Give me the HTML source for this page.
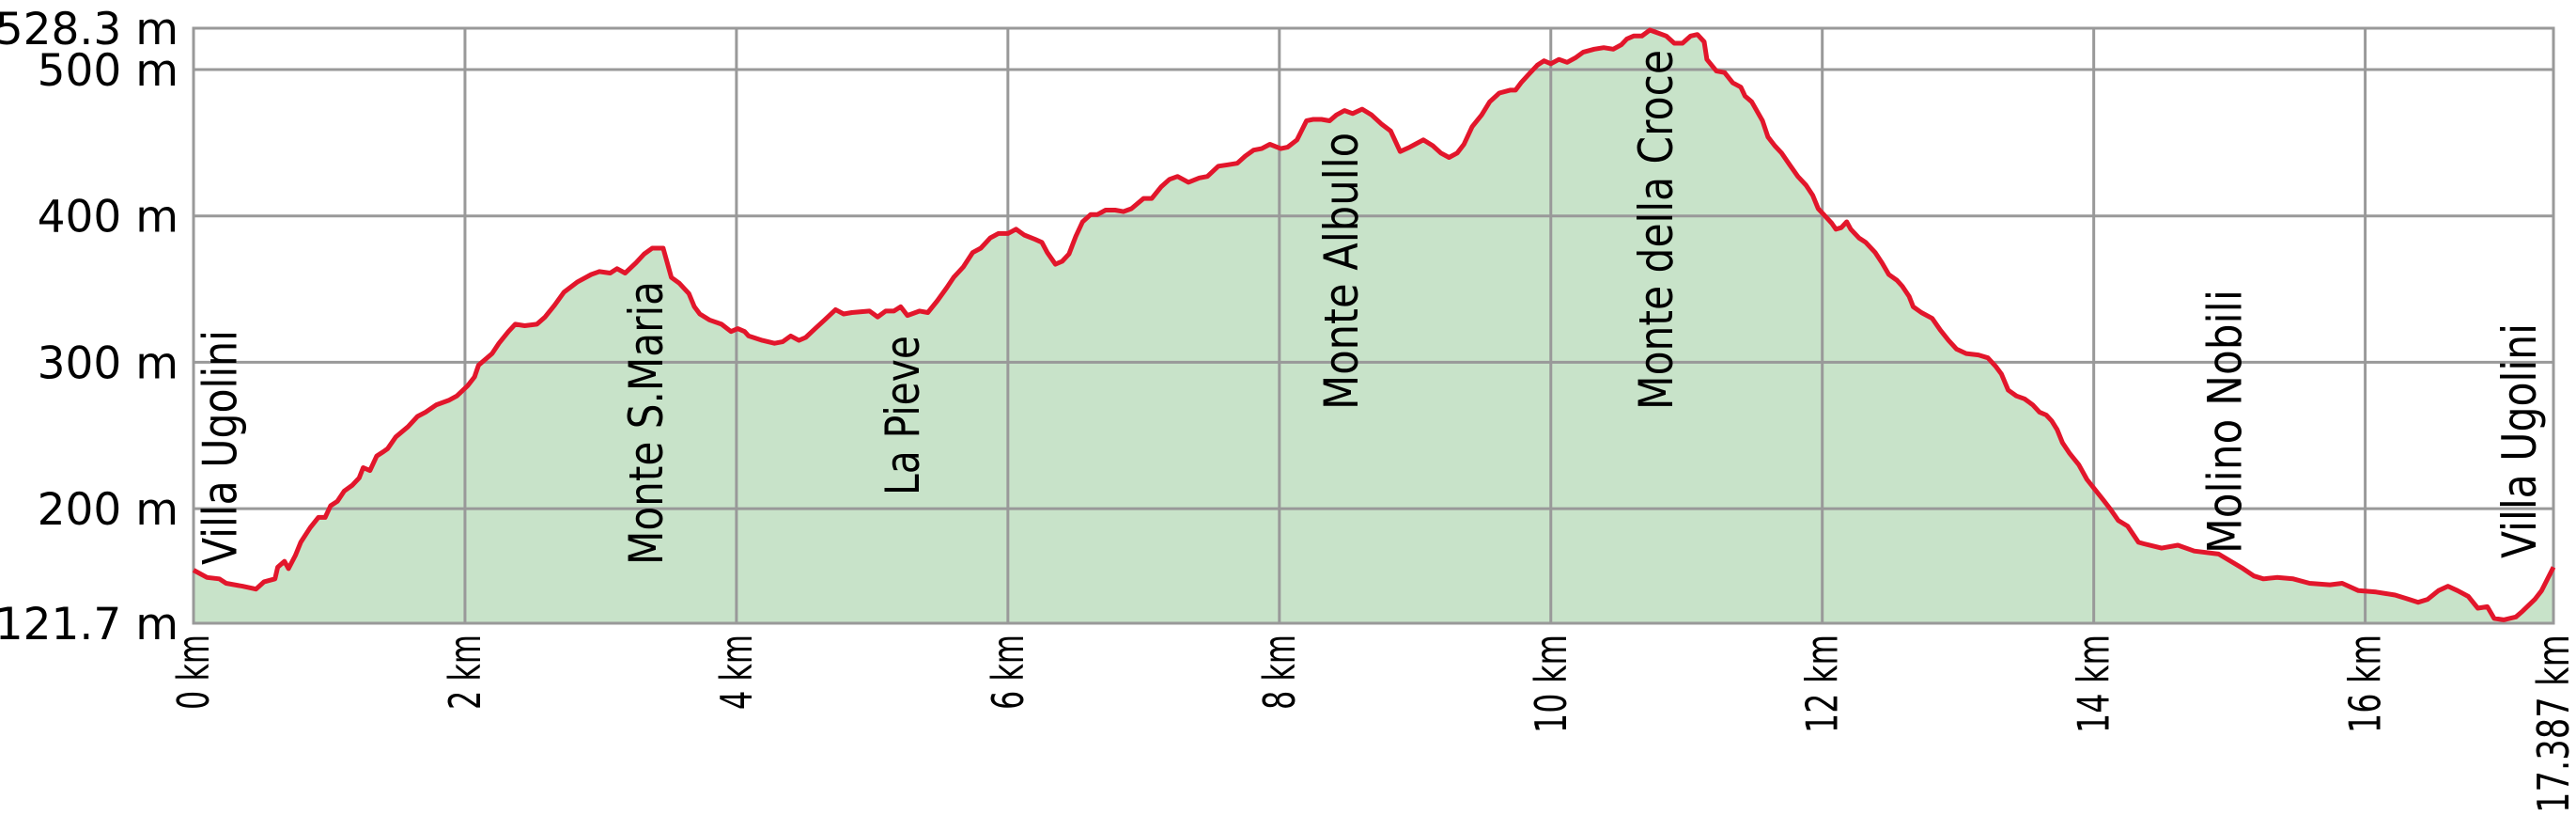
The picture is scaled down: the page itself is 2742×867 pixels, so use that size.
<!DOCTYPE html>
<html><head><meta charset="utf-8"><style>
html,body{margin:0;padding:0;background:#fff;}
svg{display:block;}
</style></head><body>
<svg id="chart" width="2742" height="867" viewBox="0 0 2742 867" xmlns="http://www.w3.org/2000/svg"></svg>
<script>
const distKm = [0,0.10,0.19,0.24,0.36,0.46,0.52,0.60,0.62,0.67,0.70,0.75,0.79,0.86,0.92,0.97,1.01,1.06,1.11,1.17,1.22,1.25,1.30,1.35,1.40,1.43,1.49,1.58,1.65,1.71,1.79,1.88,1.94,2.02,2.07,2.10,2.20,2.25,2.32,2.37,2.44,2.53,2.59,2.66,2.73,2.83,2.93,2.99,3.07,3.12,3.18,3.26,3.32,3.38,3.46,3.52,3.58,3.65,3.69,3.73,3.80,3.89,3.96,4.01,4.06,4.09,4.19,4.28,4.34,4.40,4.46,4.51,4.58,4.65,4.73,4.79,4.85,4.98,5.04,5.10,5.16,5.21,5.26,5.35,5.41,5.48,5.55,5.60,5.67,5.74,5.80,5.87,5.93,6.00,6.06,6.12,6.20,6.25,6.29,6.35,6.40,6.45,6.50,6.55,6.61,6.66,6.72,6.79,6.85,6.91,7.00,7.06,7.13,7.19,7.25,7.33,7.41,7.47,7.55,7.62,7.69,7.75,7.81,7.87,7.93,8.01,8.06,8.13,8.20,8.25,8.31,8.37,8.42,8.48,8.54,8.61,8.68,8.75,8.82,8.89,8.96,9.00,9.06,9.13,9.19,9.25,9.31,9.36,9.42,9.49,9.55,9.62,9.70,9.74,9.78,9.84,9.90,9.95,10.00,10.06,10.12,10.18,10.24,10.32,10.39,10.46,10.52,10.56,10.61,10.67,10.73,10.79,10.85,10.91,10.97,11.03,11.08,11.13,11.15,11.22,11.28,11.34,11.40,11.43,11.48,11.56,11.60,11.65,11.70,11.76,11.82,11.88,11.93,11.97,12.02,12.07,12.10,12.14,12.18,12.21,12.27,12.32,12.39,12.44,12.49,12.55,12.59,12.64,12.67,12.73,12.81,12.87,12.93,12.99,13.06,13.15,13.22,13.28,13.32,13.37,13.43,13.49,13.55,13.60,13.65,13.69,13.73,13.77,13.82,13.89,13.95,14.01,14.07,14.12,14.18,14.25,14.33,14.37,14.50,14.62,14.74,14.92,15.01,15.10,15.18,15.25,15.35,15.47,15.59,15.74,15.83,15.95,16.08,16.22,16.29,16.39,16.46,16.54,16.61,16.68,16.76,16.83,16.90,16.95,17.02,17.11,17.16,17.25,17.30,17.387];
const elevM = [158,153,152,149,147,145,150,152,160,164,159,168,177,187,194,194,202,205,212,216,221,228,226,236,239,241,249,256,263,266,271,274,277,284,290,298,306,313,321,326,325,326,331,339,348,355,360,362,361,364,361,368,374,378,378,358,354,347,338,333,329,326,321,323,321,318,315,313,314,318,315,317,323,329,336,333,334,335,331,335,335,338,332,335,334,342,351,358,365,375,378,385,388,388,391,387,384,382,375,367,369,374,386,396,401,401,404,404,403,405,412,412,420,425,427,423,426,427,434,435,436,441,445,446,449,446,447,452,465,466,466,465,469,472,470,473,469,463,458,444,447,449,452,448,443,440,443,449,461,469,478,484,486,486,491,497,503,506,504,507,505,508,512,514,515,514,517,521,523,523,527,525,523,518,518,523,524,519,507,499,498,491,488,482,478,465,454,448,443,435,427,421,414,405,400,395,391,392,396,391,385,382,375,368,360,356,352,345,338,334,330,322,315,309,306,305,303,297,292,281,277,275,271,266,264,260,254,245,238,230,220,213,206,200,192,188,177,176,173,175,171,169,164,159,154,152,153,152,149,148,149,144,143,141,139,136,138,144,147,144,140,132,133,125,124,126,130,138,144,160];
const yTicks = [200,300,400,500];
const yLabels = ["528.3 m","500 m","400 m","300 m","200 m","121.7 m"];
const yLabelVals = [528.3,500,400,300,200,121.7];
const xTicks = [0,2,4,6,8,10,12,14,16,17.387];
const xLabels = ["0 km","2 km","4 km","6 km","8 km","10 km","12 km","14 km","16 km","17.387 km"];
const placeNames = ["Villa Ugolini","Monte S.Maria","La Pieve","Monte Albullo","Monte della Croce","Molino Nobili","Villa Ugolini"];
const placeKm = [0.19,3.33,5.22,8.45,10.77,14.96,17.13];

const X0=206,X1=2718,Y0=663,Y1=30,KMAX=17.387,MMIN=121.7,MMAX=528.3;
const xs = km => X0 + km/KMAX*(X1-X0);
const ys = m => Y0 - (m-MMIN)/(MMAX-MMIN)*(Y0-Y1);
const NS="http://www.w3.org/2000/svg";
const svg=document.getElementById('chart');
function mk(tag,attrs){const e=document.createElementNS(NS,tag);for(const k in attrs)e.setAttribute(k,attrs[k]);svg.appendChild(e);return e;}

let d=`M${xs(distKm[0])},${Y0}`;
distKm.forEach((k,i)=>{d+=` L${xs(k).toFixed(1)},${ys(elevM[i]).toFixed(1)}`;});
d+=` L${xs(distKm[distKm.length-1])},${Y0} Z`;
const area=mk('path',{d:d,fill:'#c8e3c9',stroke:'none'});



yTicks.forEach(v=>{const l=mk('line',{x1:X0,x2:X1,y1:ys(v),y2:ys(v),stroke:'#999',"stroke-width":3});

});
xTicks.forEach(v=>{const l=mk('line',{x1:xs(v),x2:xs(v),y1:Y1,y2:Y0,stroke:'#999',"stroke-width":3});

});
const fr=mk('rect',{x:X0,y:Y1,width:X1-X0,height:Y0-Y1,fill:'none',stroke:'#999',"stroke-width":3});



let ld='';
distKm.forEach((k,i)=>{ld+=(i?' L':'M')+xs(k).toFixed(1)+','+ys(elevM[i]).toFixed(1);});
const line=mk('path',{d:ld,fill:'none',stroke:'#e2162b',"stroke-width":5,"stroke-linejoin":'round'});



const yLen=[190,145,145,145,145,190];
yLabels.forEach((t,i)=>{const e=mk('text',{x:190,y:ys(yLabelVals[i])+17,"text-anchor":'end',"font-family":'DejaVu Sans, Liberation Sans, sans-serif',"font-size":47,fill:'#000'});
e.textContent=t;

});

const xLen=[80,80,80,80,80,105,105,105,105,190];
xTicks.forEach((v,i)=>{const x=xs(v)+16,y=675;const e=mk('text',{x:x,y:y,"text-anchor":'end',transform:`rotate(-90 ${x} ${y})`,"font-family":'DejaVu Sans, Liberation Sans, sans-serif',"font-size":46,fill:'#000',textLength:xLen[i],lengthAdjust:'spacingAndGlyphs'});
e.textContent=xLabels[i];

});

const placeBottom=[601,601,527,436,436,589,594];
const placeLen=[250,302,170,295,383,281,250];
placeNames.forEach((t,i)=>{const x=xs(placeKm[i])+18,y=placeBottom[i];const e=mk('text',{x:x,y:y,transform:`rotate(-90 ${x} ${y})`,"font-family":'DejaVu Sans, Liberation Sans, sans-serif',"font-size":50,fill:'#000',textLength:placeLen[i],lengthAdjust:'spacingAndGlyphs'});
e.textContent=t;

});
</script>
</body></html>
